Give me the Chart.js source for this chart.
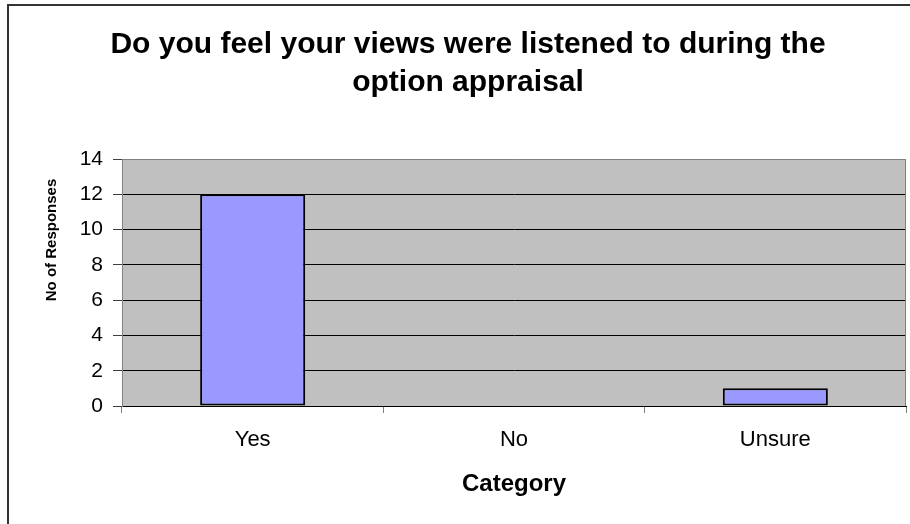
<!DOCTYPE html>
<html>
<head>
<meta charset="utf-8">
<style>
  html, body { margin: 0; padding: 0; background: #ffffff; }
  #wrap { position: relative; width: 910px; height: 524px; }
  canvas { display: block; }
</style>
<script src="https://cdn.jsdelivr.net/npm/chart.js@4/dist/chart.umd.min.js"></script>
</head>
<body>
<div id="wrap"><canvas id="chart" width="910" height="524"></canvas></div>
<script>
// Survey responses
const categories = ['Yes', 'No', 'Unsure'];
const responses = [12, 0, 1];
const yTickValues = [0, 2, 4, 6, 8, 10, 12, 14];

const titleLines = ['Do you feel your views were listened to during the', 'option appraisal'];
const xAxisTitle = 'Category';
const yAxisTitle = 'No of Responses';

const FONT = "'Liberation Sans', Arial, Helvetica, sans-serif";

// Page background, outer frame, grey plot area and its right edge
const plotBackground = {
  id: 'plotBackground',
  beforeDraw(chart) {
    const { ctx, chartArea: a } = chart;
    ctx.save();
    ctx.fillStyle = '#ffffff';
    ctx.fillRect(0, 0, chart.width, chart.height);
    ctx.strokeStyle = '#333333';
    ctx.lineWidth = 2;
    ctx.beginPath();
    ctx.moveTo(8, chart.height);
    ctx.lineTo(8, 5);
    ctx.lineTo(chart.width, 5);
    ctx.stroke();
    ctx.fillStyle = '#C0C0C0';
    ctx.fillRect(a.left, a.top, a.right - a.left, a.bottom - a.top);
    ctx.restore();
  },
  beforeDatasetsDraw(chart) {
    const { ctx, chartArea: a } = chart;
    ctx.save();
    ctx.strokeStyle = '#808080';
    ctx.lineWidth = 1;
    ctx.beginPath();
    ctx.moveTo(a.right - 0.5, a.top);
    ctx.lineTo(a.right - 0.5, a.bottom);
    ctx.stroke();
    ctx.restore();
  }
};

// Rotated value-axis title, placed a little above the axis middle
const valueAxisTitle = {
  id: 'valueAxisTitle',
  afterDraw(chart) {
    const { ctx, chartArea: a } = chart;
    ctx.save();
    ctx.translate(52, a.top + 81);
    ctx.rotate(-Math.PI / 2);
    ctx.fillStyle = '#000000';
    ctx.font = 'bold 15px ' + FONT;
    ctx.textAlign = 'center';
    ctx.textBaseline = 'middle';
    ctx.fillText(yAxisTitle, 0, 0);
    ctx.restore();
  }
};

new Chart(document.getElementById('chart'), {
  type: 'bar',
  data: {
    labels: categories,
    datasets: [{
      data: responses,
      backgroundColor: '#9999FF',
      borderColor: '#000000',
      borderWidth: 2,
      borderSkipped: false,
      barPercentage: 0.402,
      categoryPercentage: 1.0
    }]
  },
  options: {
    responsive: false,
    animation: false,
    devicePixelRatio: 1,
    layout: { padding: { left: 30, right: 4, top: 0, bottom: 0 } },
    plugins: {
      legend: { display: false },
      tooltip: { enabled: false },
      title: {
        display: true,
        text: titleLines,
        color: '#000000',
        font: { family: FONT, size: 30, weight: 'bold', lineHeight: 1.25 },
        padding: { top: 26, bottom: 58 }
      }
    },
    scales: {
      x: {
        offset: true,
        afterFit(scale) { scale.height = 118; },
        grid: {
          offset: true,
          drawOnChartArea: false,
          drawTicks: true,
          tickLength: 7,
          tickColor: '#808080'
        },
        border: { display: true, color: '#000000', width: 1 },
        ticks: {
          color: '#000000',
          padding: 14,
          maxRotation: 0,
          font: { family: FONT, size: 22 }
        },
        title: {
          display: true,
          text: xAxisTitle,
          color: '#000000',
          font: { family: FONT, size: 24, weight: 'bold', lineHeight: 1.2 },
          padding: { top: 0, bottom: 25 }
        }
      },
      y: {
        min: 0,
        max: 14,
        afterBuildTicks(scale) { scale.ticks = yTickValues.map(v => ({ value: v })); },
        afterFit(scale) { scale.width = 92; },
        grid: {
          color: ctx => (ctx.tick && ctx.tick.value === 14 ? '#808080' : '#000000'),
          lineWidth: 1,
          drawTicks: true,
          tickLength: 9,
          tickColor: '#404040'
        },
        border: { display: true, color: '#808080', width: 1 },
        ticks: {
          color: '#000000',
          padding: 10,
          font: { family: FONT, size: 21 }
        }
      }
    }
  },
  plugins: [plotBackground, valueAxisTitle]
});
</script>
</body>
</html>
